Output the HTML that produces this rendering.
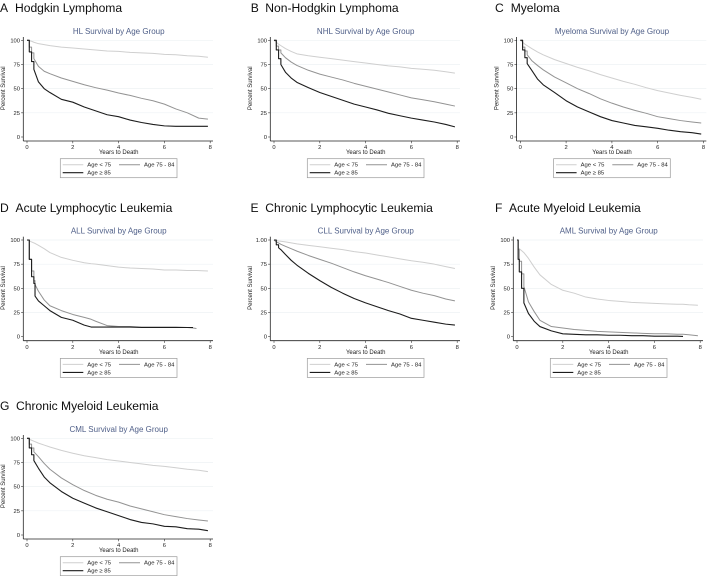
<!DOCTYPE html>
<html lang="en">
<head>
<meta charset="utf-8">
<title>Survival by Age Group</title>
<style>
html,body{margin:0;padding:0;background:#fff;}
body{width:709px;height:576px;overflow:hidden;}
svg{display:block;font-family:"Liberation Sans",Arial,sans-serif;}
</style>
</head>
<body>
<svg id="figure" xmlns="http://www.w3.org/2000/svg" width="709" height="576" viewBox="0 0 709 576">
<defs><filter id="soft" x="-2%" y="-2%" width="104%" height="104%"><feGaussianBlur stdDeviation="0.38"/></filter></defs>
<rect width="709" height="576" fill="#fff"/>
<g id="root" filter="url(#soft)"></g>
</svg>
<script>
const xTickLabels = [0, 2, 4, 6, 8];
const yTickLabels = [0, 25, 50, 75, 100];
const legendLabels = ['Age < 75', 'Age 75 - 84', 'Age ≥ 85'];

const commonTimes = [0,.1,.2,.3,.5,.75,1,1.5,2,2.5,3,3.5,4,4.5,5,5.5,6,6.5,7,7.5,7.9];
const allTimes = [0,.1,.2,.3,.35,.5,.75,1,1.5,2,2.5,2.8,3,3.5,4,4.5,5,5.5,6,6.5,7,7.25,7.4,7.9];
const amlTimes = [0,.05,.1,.2,.3,.5,.75,1,1.5,2,2.5,3,3.5,4,4.5,5,5.5,6,6.5,7,7.25,7.5,7.9];

const hlUnder75 = [100,99.5,99,98,96.5,95.5,94.5,93,92,91,90,89,88.5,87.5,87,86.5,85.5,85,84,83.5,82.5];
const hl75to84 = [100,93,87,81,73,68,65.5,61,57.5,54,51,48.5,45.5,43,40,37.5,34,29,25,19.5,18.5];
const hl85plus = [100,88,78,70,57,50,46,39,36,31,27,23,21,17.5,15,13,11.5,11,11,11,11];

const nhlUnder75 = [100,98,96,94.5,91.5,88.5,86,84,82.5,81,79.5,78,76.5,75,73.5,72.5,71,70,69,67.5,66];
const nhl75to84 = [100,94,90,87,82,77.5,74,69,65,62,59,55.5,52.5,49.5,46.5,43.5,40.5,38.5,36.5,34,32];
const nhl85plus = [100,90,81,75,67,61,56.5,51,46,42,38,34,31,28,24.5,22,19.5,17.5,15.5,13,10.5];

const myelomaUnder75 = [100,98,96,94.5,91.5,88,85,80,76,72,68.5,64.5,61,57.5,54.5,51,48,45.5,43,41,39];
const myeloma75to84 = [100,93,89,85,79,74,69.5,62,56,50,45,39.5,35,31,27.5,24.5,21,19,17,15.5,14.5];
const myeloma85plus = [100,90,82,76,69,60,54,46,37.5,31,26,21,17,14.5,12,10.5,9,7,5.5,4.5,3];

const allUnder75 = [100,99,98,97,96.5,94.5,91,87,82,79,76.5,75.5,75,73.5,72,71,70.5,70,69,69,68.5,68.5,68.5,68];
const all75to84 = [100,80,68,58,54,47,38,32,27,23,20,18,16,11.5,10.5,10.5,10,10,10,10,9.5,9,8.5,null];
const all85plus = [100,80,62,55,42,37,32,27,20,17,12,10,10,10,10,10,9.5,9.5,9.5,9.5,9.5,9.5,null,null];

const cllUnder75 = [100,99.5,99,98.7,98,97,96,94.5,93,91.5,90,88,86.5,84.5,82.5,80.5,78.5,77,75,72.5,70.5];
const cll75to84 = [100,98,97,95.5,93.5,91,88.5,84,80,76,71.5,67,63,59.5,56,52,48,45,42.5,39,37];
const cll85plus = [100,95,92,90,85,79,74,65.5,58,51,45,39.5,35,31,27,23.5,19,17,15,13,12];

const amlUnder75 = [100,92,91,89,87,81,72,64,54,48,45,41,39,37.5,36.5,35.5,35,34.5,34,33.5,33.5,33,32.5];
const aml75to84 = [100,90,78,65,52,36,26,17,10.5,9,7.5,6.5,5.5,5,4.5,4,3.5,3,3,2.5,2.5,2,1];
const aml85plus = [100,80,67,50,35,24,16,10.5,6,3,2.5,2,2,1.5,1.5,1,1,.5,.5,.5,.3,null,null];

const cmlUnder75 = [100,99,98,97,95,93,91,87.5,84.5,82,80,78,76.5,75,73.5,72,71,69.5,68,67,65.5];
const cml75to84 = [100,94,90,86,81,74,68,59,52,46,41,37,34,30,27,24,21,19,17,15.5,14.5];
const cml85plus = [100,90,83,77,69,60,54,45,38,33,28,24,20,16,13,11.5,9,8.5,6.5,6,4.5];

const root = document.getElementById('root');
const NS = 'http://www.w3.org/2000/svg';

function make(parent, tag, props, text) {
  const el = document.createElementNS(NS, tag);
  for (const k in props) el.setAttribute(k, props[k]);
  if (text !== undefined) el.textContent = text;
  parent.appendChild(el);
  return el;
}

function drawHeading(letter, label, letterX, labelX, baseline) {
  const a = make(root, 'text', {x: letterX, y: baseline, 'font-size': 12.1, fill: '#111'}, letter);
  
  
  const b = make(root, 'text', {x: labelX, y: baseline, 'font-size': 12.1, fill: '#111'}, label);
  
  
}

function drawSeries(g, times, values, xScale, yScale, color, width, name) {
  let d = '';
  let prevT = null;
  let prevV = null;
  values.forEach(function (v, i) {
    if (v === null) return;
    const px = xScale(times[i]);
    const py = yScale(v);
    if (prevT === null) {
      d += 'M' + px.toFixed(2) + ' ' + py.toFixed(2);
    } else if (times[i] - prevT < 0.15 && prevV - v >= 3) {
      d += 'H' + px.toFixed(2) + 'V' + py.toFixed(2);
    } else {
      d += 'L' + px.toFixed(2) + ' ' + py.toFixed(2);
    }
    prevT = times[i];
    prevV = v;
  });
  const line = make(g, 'path', {d: d, fill: 'none', stroke: color, 'stroke-width': width, 'stroke-linejoin': 'round'});
  
  
}

function drawPanel(title, x0, yTop, times, under75, mid, over85, topTickText) {
  const xScale = function (t) { return x0 + t * 22.9; };
  const yScale = function (v) { return yTop + (100 - v) * 0.967; };
  const axisX = x0 - 3.7;
  const axisY = yTop + 100.7;

  const g = make(root, 'g', {});
  
  

  const titleEl = make(g, 'text', {x: x0 + 91.7, y: yTop - 6.3, 'font-size': 8, fill: '#4f5f88', 'text-anchor': 'middle'}, title);
  
  

  yTickLabels.forEach(function (v) {
    const py = yScale(v);
    if (v > 0) {
      const grid = make(g, 'line', {x1: axisX, x2: x0 + 186, y1: py, y2: py, stroke: '#eef2f4', 'stroke-width': 0.7});
      
      
    }
    const tick = make(g, 'line', {x1: axisX - 2.2, x2: axisX, y1: py, y2: py, stroke: '#333', 'stroke-width': 0.6});
    
    
    const txt = (v === 100 && topTickText) ? topTickText : String(v);
    const lab = make(g, 'text', {x: x0 - 7, y: py + 2, 'font-size': 5.8, fill: '#222', 'text-anchor': 'end'}, txt);
    
    
  });

  xTickLabels.forEach(function (t) {
    const px = xScale(t);
    const tick = make(g, 'line', {x1: px, x2: px, y1: axisY, y2: axisY + 2.2, stroke: '#333', 'stroke-width': 0.6});
    
    
    const lab = make(g, 'text', {x: px, y: axisY + 8.2, 'font-size': 5.8, fill: '#222', 'text-anchor': 'middle'}, String(t));
    
    
  });

  const yAxis = make(g, 'line', {x1: axisX, x2: axisX, y1: yTop - 3.3, y2: axisY, stroke: '#222', 'stroke-width': 0.8});
  
  
  const xAxis = make(g, 'line', {x1: axisX, x2: x0 + 186, y1: axisY, y2: axisY, stroke: '#222', 'stroke-width': 0.8});
  
  

  const xTitle = make(g, 'text', {x: x0 + 91.7, y: axisY + 13.2, 'font-size': 6, fill: '#222', 'text-anchor': 'middle'}, 'Years to Death');
  
  
  const yMid = yTop + 48;
  const yTitle = make(g, 'text', {x: x0 - 22, y: yMid, 'font-size': 6, fill: '#222', 'text-anchor': 'middle', transform: 'rotate(-90 ' + (x0 - 22) + ' ' + yMid + ')'}, 'Percent Survival');
  
  

  drawSeries(g, times, under75, xScale, yScale, '#cfcfcf', 1, 'series-under-75');
  drawSeries(g, times, mid, xScale, yScale, '#939393', 1, 'series-75-to-84');
  drawSeries(g, times, over85, xScale, yScale, '#1c1c1c', 1.1, 'series-85-plus');

  const ly = axisY + 17.7;
  const box = make(g, 'rect', {x: x0 + 33.3, y: ly, width: 116.7, height: 19, fill: '#fff', stroke: '#9a9a9a', 'stroke-width': 0.7});
  
  

  const rowA = ly + 6;
  const rowB = ly + 14;
  const s1 = make(g, 'line', {x1: x0 + 35.7, x2: x0 + 56.3, y1: rowA, y2: rowA, stroke: '#cfcfcf', 'stroke-width': 1});
  
  
  const t1 = make(g, 'text', {x: x0 + 60.3, y: rowA + 2, 'font-size': 5.9, fill: '#222'}, legendLabels[0]);
  
  
  const s2 = make(g, 'line', {x1: x0 + 92, x2: x0 + 113, y1: rowA, y2: rowA, stroke: '#939393', 'stroke-width': 1});
  
  
  const t2 = make(g, 'text', {x: x0 + 117, y: rowA + 2, 'font-size': 5.9, fill: '#222'}, legendLabels[1]);
  
  
  const s3 = make(g, 'line', {x1: x0 + 35.7, x2: x0 + 56.3, y1: rowB, y2: rowB, stroke: '#1c1c1c', 'stroke-width': 1.1});
  
  
  const t3 = make(g, 'text', {x: x0 + 60.3, y: rowB + 2, 'font-size': 5.9, fill: '#222'}, legendLabels[2]);
  
  
}

drawHeading('A', 'Hodgkin Lymphoma', 0, 15, 12);
drawHeading('B', 'Non-Hodgkin Lymphoma', 250.7, 265.3, 12);
drawHeading('C', 'Myeloma', 495, 510.7, 12);
drawHeading('D', 'Acute Lymphocytic Leukemia', 0, 15.5, 212);
drawHeading('E', 'Chronic Lymphocytic Leukemia', 250.5, 265.3, 212);
drawHeading('F', 'Acute Myeloid Leukemia', 495, 509, 212);
drawHeading('G', 'Chronic Myeloid Leukemia', 0, 16, 410);

drawPanel('HL Survival by Age Group', 27, 40.3, commonTimes, hlUnder75, hl75to84, hl85plus);
drawPanel('NHL Survival by Age Group', 274, 40.3, commonTimes, nhlUnder75, nhl75to84, nhl85plus);
drawPanel('Myeloma Survival by Age Group', 520.3, 40.3, commonTimes, myelomaUnder75, myeloma75to84, myeloma85plus);
drawPanel('ALL Survival by Age Group', 27, 240, allTimes, allUnder75, all75to84, all85plus);
drawPanel('CLL Survival by Age Group', 274, 240, commonTimes, cllUnder75, cll75to84, cll85plus, '1.00');
drawPanel('AML Survival by Age Group', 517, 240, amlTimes, amlUnder75, aml75to84, aml85plus);
drawPanel('CML Survival by Age Group', 27, 438.3, commonTimes, cmlUnder75, cml75to84, cml85plus);
</script>
</body>
</html>
